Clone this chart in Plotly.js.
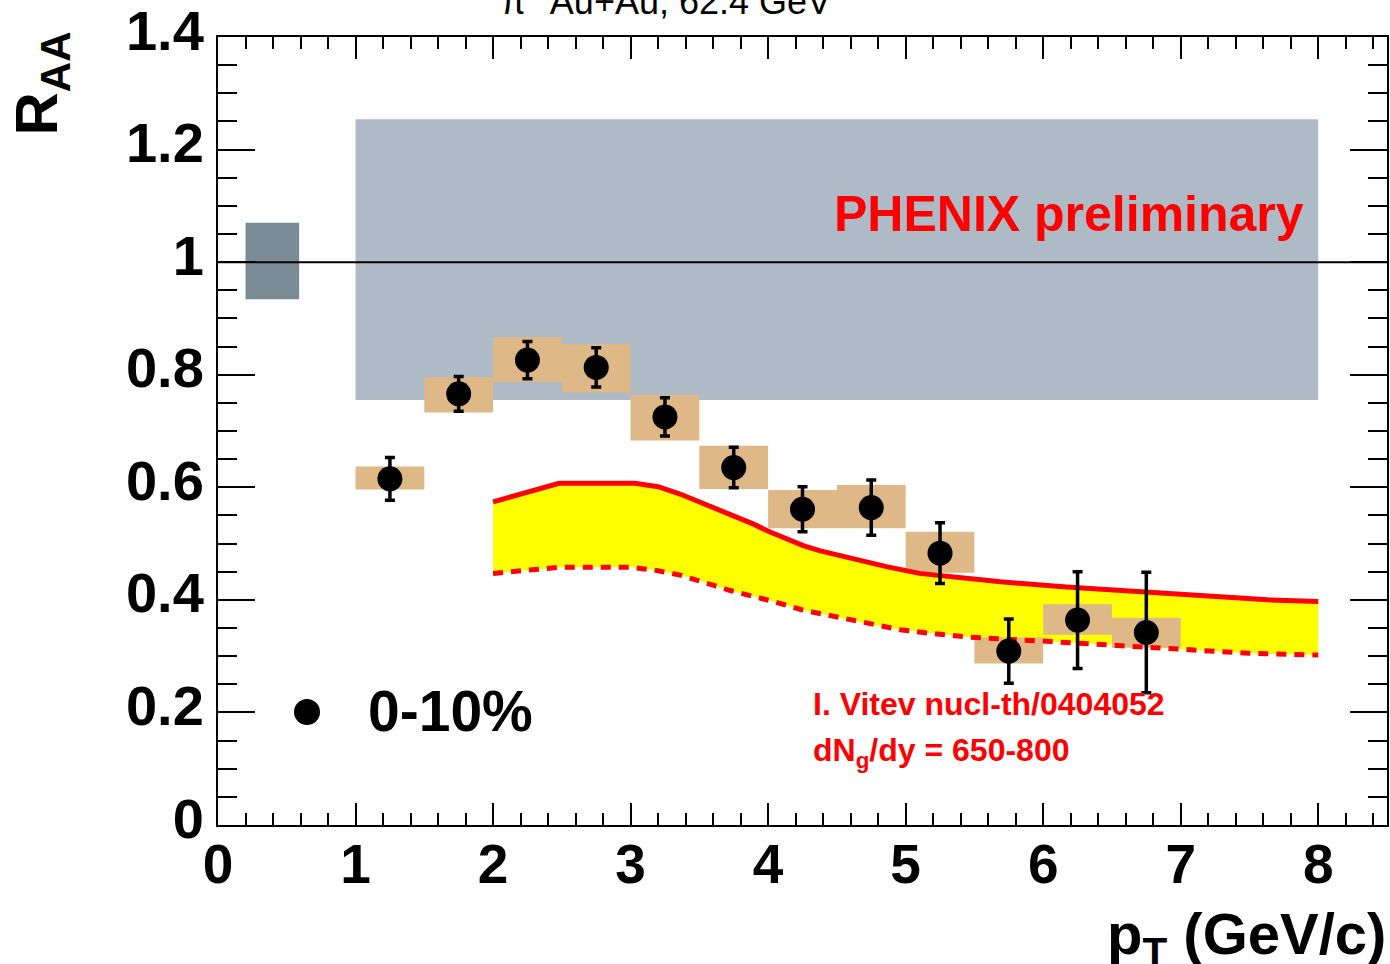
<!DOCTYPE html>
<html>
<head>
<meta charset="utf-8">
<script src="https://cdn.plot.ly/plotly-3.0.1.min.js"></script>
<style>html,body{margin:0;padding:0;background:#fff;}#chart{width:1390px;height:964px;}</style>
</head>
<body>
<div id="chart"></div>
<script>
// ---- data ----
const ptCenters = [1.25, 1.75, 2.25, 2.75, 3.25, 3.75, 4.25, 4.75, 5.25, 5.75, 6.25, 6.75];
const binLo     = [1.0, 1.5, 2.0, 2.5, 3.0, 3.5, 4.0, 4.5, 5.0, 5.5, 6.0, 6.5];
const binHi     = [1.5, 2.0, 2.5, 3.0, 3.5, 4.0, 4.5, 5.0, 5.5, 6.0, 6.5, 7.0];
const raa       = [0.615, 0.766, 0.826, 0.813, 0.725, 0.635, 0.561, 0.564, 0.483, 0.309, 0.364, 0.342];
const statErr   = [0.038, 0.031, 0.033, 0.035, 0.034, 0.036, 0.040, 0.049, 0.054, 0.057, 0.086, 0.107];
const sysLow    = [0.596, 0.733, 0.787, 0.769, 0.683, 0.597, 0.527, 0.527, 0.448, 0.287, 0.338, 0.315];
const sysHigh   = [0.637, 0.796, 0.867, 0.854, 0.764, 0.674, 0.595, 0.604, 0.521, 0.333, 0.392, 0.368];

const normBandX = [1.0, 8.0];     // global (pT-correlated) uncertainty band
const normBandY = [0.755, 1.254];
const normBoxX  = [0.2, 0.59];    // normalization uncertainty box
const normBoxY  = [0.934, 1.070];

const theoryUpX = [2.0, 2.48, 3.03, 3.2, 3.36, 3.5, 3.65, 3.77, 3.89, 4.01, 4.14, 4.26, 4.38, 4.62, 4.86, 5.1, 5.35, 5.69, 6.17, 6.66, 7.14, 7.63, 8.0];
const theoryUpY = [0.574, 0.607, 0.607, 0.601, 0.588, 0.574, 0.560, 0.548, 0.535, 0.521, 0.507, 0.496, 0.487, 0.472, 0.459, 0.447, 0.441, 0.432, 0.423, 0.416, 0.407, 0.400, 0.397];
const theoryLoX = [2.0, 2.49, 3.0, 3.17, 3.36, 3.48, 3.6, 3.72, 3.85, 4.04, 4.25, 4.5, 4.75, 4.96, 5.2, 5.45, 6.05, 6.54, 7.02, 7.5, 8.0];
const theoryLoY = [0.447, 0.458, 0.458, 0.453, 0.444, 0.436, 0.426, 0.417, 0.409, 0.397, 0.382, 0.369, 0.356, 0.347, 0.340, 0.334, 0.326, 0.320, 0.312, 0.305, 0.302];

const xTickVals = [0, 1, 2, 3, 4, 5, 6, 7, 8];
const yTickVals = [0, 0.2, 0.4, 0.6, 0.8, 1, 1.2, 1.4];
const xRange = [0, 8.5];
const yRange = [0, 1.4];
const refLevel = 1;
const legendLabel = '0-10%';

// ---- helpers ----
function rect(x0, x1, y0, y1) {
  return {x: [x0, x1, x1, x0, x0], y: [y0, y0, y1, y1, y0]};
}
const boxX = [], boxY = [];
for (let i = 0; i < ptCenters.length; i++) {
  const r = rect(binLo[i], binHi[i], sysLow[i], sysHigh[i]);
  boxX.push(...r.x, null); boxY.push(...r.y, null);
}
const band = rect(normBandX[0], normBandX[1], normBandY[0], normBandY[1]);
const nbox = rect(normBoxX[0], normBoxX[1], normBoxY[0], normBoxY[1]);

const FONT = 'Liberation Sans, Arial, Helvetica, sans-serif';
const RED = '#ff0000';
const NOLINE = {width: 0, color: 'rgba(0,0,0,0)'};

const traces = [
  {x: band.x, y: band.y, mode: 'lines', fill: 'toself', fillcolor: '#aebbc6',
   line: NOLINE, showlegend: false, hoverinfo: 'skip'},
  {x: nbox.x, y: nbox.y, mode: 'lines', fill: 'toself', fillcolor: '#7b8b96',
   line: NOLINE, showlegend: false, hoverinfo: 'skip'},
  {x: xRange, y: [refLevel, refLevel], mode: 'lines', line: {color: '#000', width: 2},
   showlegend: false, hoverinfo: 'skip'},
  // theory band fill
  {x: theoryLoX, y: theoryLoY, mode: 'lines', line: NOLINE, showlegend: false, hoverinfo: 'skip'},
  {x: theoryUpX, y: theoryUpY, mode: 'lines', fill: 'tonexty', fillcolor: '#ffff00',
   line: NOLINE, showlegend: false, hoverinfo: 'skip'},
  // systematic boxes
  {x: boxX, y: boxY, mode: 'lines', fill: 'toself', fillcolor: '#deb887',
   line: NOLINE, connectgaps: false, showlegend: false, hoverinfo: 'skip'},
  // theory lines
  {x: theoryUpX, y: theoryUpY, mode: 'lines', line: {color: RED, width: 5},
   showlegend: false, hoverinfo: 'skip'},
  {x: theoryLoX, y: theoryLoY, mode: 'lines', line: {color: RED, width: 5, dash: '10px,8px'},
   showlegend: false, hoverinfo: 'skip'},
  // data
  {x: ptCenters, y: raa, mode: 'markers', name: legendLabel,
   marker: {symbol: 'circle', size: 25, color: '#000'},
   error_y: {type: 'data', array: statErr, visible: true, color: '#000', thickness: 3.5, width: 5},
   showlegend: false}
];

const layout = {
  width: 1390, height: 964,
  margin: {l: 218, r: 3, t: 37, b: 139, pad: 0},
  paper_bgcolor: '#fff', plot_bgcolor: '#fff',
  font: {family: FONT, color: '#000'},
  showlegend: false,
  xaxis: {range: xRange, tickvals: xTickVals, ticks: 'inside', ticklen: 22, tickwidth: 2,
          tickcolor: '#000', showline: true, linecolor: '#000', linewidth: 2, mirror: 'ticks',
          showgrid: false, zeroline: false, ticklabeloverflow: 'allow',
          minor: {dtick: 0.2, tick0: 0, ticks: 'inside', ticklen: 12, tickwidth: 2, tickcolor: '#000', showgrid: false},
          tickfont: {family: FONT, size: 55, weight: 'bold', color: '#000'}, ticklabelstandoff: -10},
  yaxis: {range: yRange, tickvals: yTickVals, ticks: 'inside', ticklen: 37, tickwidth: 2,
          tickcolor: '#000', showline: true, linecolor: '#000', linewidth: 2, mirror: 'ticks',
          showgrid: false, zeroline: false, ticklabeloverflow: 'allow',
          minor: {dtick: 0.05, tick0: 0, ticks: 'inside', ticklen: 19, tickwidth: 2, tickcolor: '#000', showgrid: false},
          tickfont: {family: FONT, size: 56, weight: 'bold', color: '#000'}, ticklabelstandoff: 1,
          ticklabelshift: -7},
  shapes: [
    // legend symbol
    {type: 'circle', xref: 'paper', yref: 'paper', xsizemode: 'pixel', ysizemode: 'pixel',
     xanchor: (307 - 218) / 1169, yanchor: (825 - 712) / 788,
     x0: -13, x1: 13, y0: -13, y1: 13, fillcolor: '#000', line: {width: 0}}
  ],
  annotations: [
    {text: 'π<sup>0</sup> Au+Au, 62.4 GeV', xref: 'paper', yref: 'paper', x: 0.383, y: 1.016,
     xanchor: 'center', yanchor: 'bottom', showarrow: false,
     font: {family: FONT, size: 36, color: '#000'}},
    {text: 'R<sub>AA</sub>', xref: 'paper', yref: 'paper', x: -0.151, y: 0.9416, textangle: -90,
     xanchor: 'center', yanchor: 'middle', showarrow: false,
     font: {family: FONT, size: 60, weight: 'bold', color: '#000'}},
    {text: 'p<sub>T</sub> (GeV/c)', xref: 'paper', yref: 'paper', x: 1.001, y: -0.143,
     xanchor: 'right', yanchor: 'middle', showarrow: false,
     font: {family: FONT, size: 58, weight: 'bold', color: '#000'}},
    {text: legendLabel, xref: 'paper', yref: 'paper', x: (366 - 218) / 1169, y: (825 - 711) / 788,
     xanchor: 'left', yanchor: 'middle', showarrow: false,
     font: {family: FONT, size: 57, weight: 'bold', color: '#000'}},
    {text: 'PHENIX preliminary', xref: 'paper', yref: 'paper', x: (1306 - 218) / 1169, y: (825 - 214) / 788,
     xanchor: 'right', yanchor: 'middle', showarrow: false,
     font: {family: FONT, size: 50, weight: 'bold', color: RED}},
    {text: 'I. Vitev nucl-th/0404052', xref: 'paper', yref: 'paper', x: (811 - 218) / 1169, y: (825 - 704) / 788,
     xanchor: 'left', yanchor: 'middle', showarrow: false,
     font: {family: FONT, size: 32, weight: 'bold', color: RED}},
    {text: 'dN<sub>g</sub>/dy = 650-800', xref: 'paper', yref: 'paper', x: (811 - 218) / 1169, y: (825 - 752) / 788,
     xanchor: 'left', yanchor: 'middle', showarrow: false,
     font: {family: FONT, size: 32, weight: 'bold', color: RED}}
  ]
};

Plotly.newPlot('chart', traces, layout, {displayModeBar: false, staticPlot: true});
</script>
</body>
</html>
